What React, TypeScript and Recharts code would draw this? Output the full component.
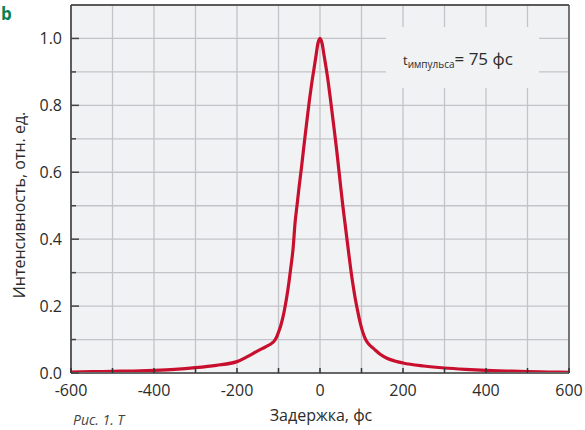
import React from 'react';
import { LineChart, Line, XAxis, YAxis, CartesianGrid, ReferenceLine } from 'recharts';

const delays = [
  -600, -550, -500, -450, -400, -350, -300, -250, -200, -175, -150, -130, -115, -110, -105, -100,
  -95, -90, -85, -80, -75, -70, -65, -60, -55, -50, -45, -40, -35, -30, -25, -20, -15, -10, -5, 0,
  5, 10, 15, 20, 25, 30, 35, 40, 45, 50, 55, 60, 65, 70, 75, 80, 85, 90, 95, 100, 105, 110, 115,
  120, 130, 145, 160, 180, 200, 250, 300, 350, 400, 450, 500, 550, 600,
];
const intensity = [
  0.003, 0.004, 0.005, 0.006, 0.008, 0.011, 0.016, 0.023, 0.034, 0.049, 0.066, 0.079, 0.09, 0.096, 0.106, 0.122,
  0.14, 0.163, 0.193, 0.228, 0.27, 0.318, 0.37, 0.45, 0.505, 0.56, 0.61, 0.665, 0.718, 0.77, 0.82, 0.865, 0.905, 0.945, 0.985, 1.0,
  0.985, 0.948, 0.91, 0.868, 0.82, 0.77, 0.72, 0.668, 0.612, 0.555, 0.5, 0.45, 0.4, 0.35, 0.302, 0.26, 0.222, 0.19, 0.16, 0.135, 0.115, 0.1, 0.09,
  0.083, 0.072, 0.056, 0.045, 0.036, 0.03, 0.021, 0.015, 0.011, 0.008, 0.006, 0.004, 0.003, 0.002,
];

const xTicks = [-600, -500, -400, -300, -200, -100, 0, 100, 200, 300, 400, 500, 600];
const xLabelTicks = [-600, -400, -200, 0, 200, 400, 600];
const yTicks = [0, 0.1, 0.2, 0.3, 0.4, 0.5, 0.6, 0.7, 0.8, 0.9, 1.0];
const yLabelTicks = ['0.0', '0.2', '0.4', '0.6', '0.8', '1.0'];
const yGrid = [0, 0.1, 0.2, 0.3, 0.4, 0.5, 0.6, 0.7, 0.8, 0.9, 1.0, 1.1];

const xLabel = 'Задержка, фс';
const yLabel = 'Интенсивность, отн. ед.';
const annotationMain = 't';
const annotationSub = 'импульса';
const annotationValue = '= 75 фс';
const panelLetter = 'b';
const caption = 'Рис. 1. Т';

const data = delays.map((t, i) => ({ t, v: intensity[i] }));

const FONT = '"Open Sans", "Noto Sans", sans-serif';
const TEXT = '#2b2b2b';

const XTick = (props: any) => {
  const { x, y, payload } = props;
  const v = payload.value;
  const show = xLabelTicks.includes(v);
  return (
    <g>
      <line x1={x} x2={x} y1={y} y2={y - 5} stroke="#333" strokeWidth={1.5} />
      {show && (
        <text x={x} y={y + 23} textAnchor="middle" fontSize={16} fill={TEXT} fontFamily={FONT}>
          {v}
        </text>
      )}
    </g>
  );
};

const YTick = (props: any) => {
  const { x, y, payload } = props;
  const label = Number(payload.value).toFixed(1);
  const major = yLabelTicks.includes(label);
  return (
    <g>
      <line x1={x} x2={x + (major ? 8 : 5)} y1={y} y2={y} stroke="#444" strokeWidth={1.5} />
      {major && (
        <text x={x - 9} y={y + 6} textAnchor="end" fontSize={16} fill={TEXT} fontFamily={FONT}>
          {label}
        </text>
      )}
    </g>
  );
};

export default function App() {
  return (
    <div style={{ position: 'absolute', left: 0, top: 0, width: 585, height: 430, overflow: 'hidden', background: '#fff' }}>
      <LineChart
        width={585}
        height={430}
        data={data}
        margin={{ top: 5, right: 16, bottom: 0, left: 0 }}
      >
        <CartesianGrid
          fill="#f1f2f4"
          stroke="#c4c4c8"
          strokeWidth={1.3}
          verticalValues={xTicks}
          horizontalValues={yGrid}
        />
        <XAxis
          dataKey="t"
          type="number"
          domain={[-600, 600]}
          ticks={xTicks}
          interval={0}
          height={57}
          tickSize={0}
          tickMargin={0}
          tickLine={false}
          tick={<XTick />}
          axisLine={{ stroke: '#666', strokeWidth: 2 }}
        />
        <YAxis
          type="number"
          domain={[0, 1.1]}
          ticks={yTicks}
          interval={0}
          width={71}
          tickSize={0}
          tickMargin={0}
          tickLine={false}
          tick={<YTick />}
          axisLine={{ stroke: '#333', strokeWidth: 1.5 }}
        />
        <ReferenceLine y={1.1} stroke="#333" strokeWidth={1.5} />
        <ReferenceLine x={600} stroke="#555" strokeWidth={1.5} />
        <Line
          dataKey="v"
          type="monotone"
          stroke="#c8102e"
          strokeWidth={3.2}
          dot={false}
          isAnimationActive={false}
        />
      </LineChart>
      <svg
        width={585}
        height={430}
        style={{ position: 'absolute', left: 0, top: 0, pointerEvents: 'none' }}
      >
        <rect x={386} y={27} width={153} height={61} fill="#f1f2f4" />
        <text x={403} y={65} fontFamily={FONT} fill={TEXT}>
          <tspan fontSize={13}>{annotationMain}</tspan>
          <tspan fontSize={10} dy={3}>{annotationSub}</tspan>
          <tspan fontSize={17} dy={-3}>{annotationValue}</tspan>
        </text>
        <text x={1} y={20} fontSize={17} fontWeight="bold" fill="#0a7f56" fontFamily={FONT}>
          {panelLetter}
        </text>
        <text
          transform="translate(25,205) rotate(-90)"
          textAnchor="middle"
          fontSize={16}
          fill={TEXT}
          fontFamily={FONT}
        >
          {yLabel}
        </text>
        <text x={321} y={421} textAnchor="middle" fontSize={16} fill={TEXT} fontFamily={FONT}>
          {xLabel}
        </text>
        <text x={73} y={425} fontSize={14} fontStyle="italic" fill="#444" fontFamily={FONT}>
          {caption}
        </text>
      </svg>
    </div>
  );
}
